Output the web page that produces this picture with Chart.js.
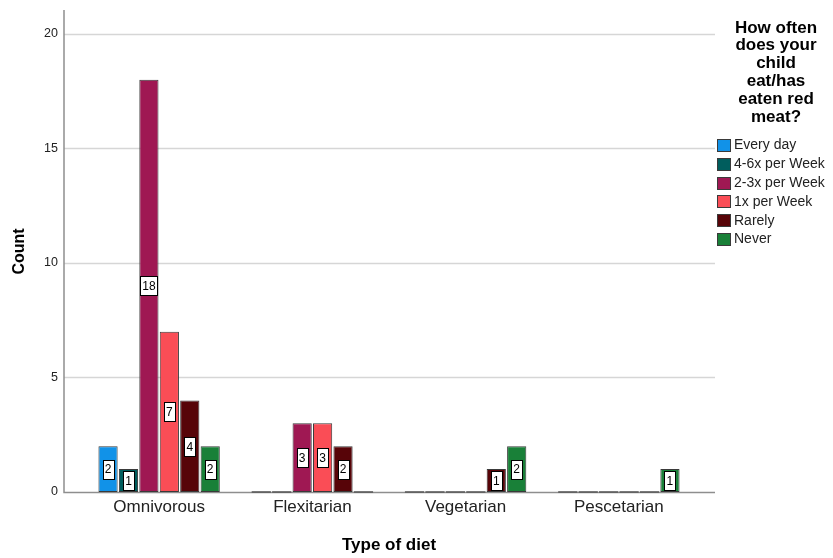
<!DOCTYPE html>
<html>
<head>
<meta charset="utf-8">
<script src="https://cdn.jsdelivr.net/npm/chart.js@4/dist/chart.umd.min.js"></script>
<style>
  html, body { margin: 0; padding: 0; background: #fff; }
  #wrap { width: 833px; height: 558px; }
</style>
</head>
<body>
<div id="wrap"><canvas id="myChart" width="833" height="558"></canvas></div>
<script>
const diets = ['Omnivorous', 'Flexitarian', 'Vegetarian', 'Pescetarian'];
const legendTitle = ['How often', 'does your', 'child', 'eat/has', 'eaten red', 'meat?'];

const everyDay   = [2, 0, 0, 0];
const fourToSix  = [1, 0, 0, 0];
const twoToThree = [18, 3, 0, 0];
const oncePerWk  = [7, 3, 0, 0];
const rarely     = [4, 2, 1, 0];
const never      = [2, 0, 2, 1];

const yTicks = [0, 5, 10, 15, 20];

const FONT = "'Liberation Sans', Arial, sans-serif";

function series(label, data, color) {
    return {
        label: label,
        data: data,
        backgroundColor: color,
        borderColor: '#3a3a3a',
        borderWidth: 1,
        borderSkipped: false,
        categoryPercentage: 0.8,
        barPercentage: 0.94
    };
}

// grid lines + axis lines drawn wider than the plot area, like the SPSS output
const backdrop = {
    id: 'backdrop',
    beforeDatasetsDraw(chart) {
        const ctx = chart.ctx;
        const ys = chart.scales.y;
        const x0 = 64, x1 = 715;
        ctx.save();
        ctx.lineWidth = 1.5;
        ctx.strokeStyle = '#d6d6d6';
        yTicks.forEach(v => {
            if (v === 0) return;
            const y = Math.round(ys.getPixelForValue(v)) + 0.5;
            ctx.beginPath();
            ctx.moveTo(x0, y);
            ctx.lineTo(x1, y);
            ctx.stroke();
        });
        const base = Math.round(ys.getPixelForValue(0)) + 0.5;
        ctx.strokeStyle = '#8e8e8e';
        ctx.beginPath();
        ctx.moveTo(x0, chart.chartArea.top - 1);
        ctx.lineTo(x0, base);
        ctx.lineTo(x1, base);
        ctx.stroke();
        ctx.restore();
    }
};

// value boxes in the middle of each bar, flat outline for empty bars
const barLabels = {
    id: 'barLabels',
    afterDatasetsDraw(chart) {
        const ctx = chart.ctx;
        ctx.save();
        ctx.font = '12px ' + FONT;
        ctx.textAlign = 'center';
        ctx.textBaseline = 'middle';
        chart.data.datasets.forEach((ds, i) => {
            const meta = chart.getDatasetMeta(i);
            meta.data.forEach((el, j) => {
                const v = ds.data[j];
                if (!v) {
                    ctx.strokeStyle = '#555';
                    ctx.lineWidth = 1.5;
                    ctx.beginPath();
                    ctx.moveTo(el.x - el.width / 2, el.base);
                    ctx.lineTo(el.x + el.width / 2, el.base);
                    ctx.stroke();
                    return;
                }
                const txt = String(v);
                const w = Math.round(ctx.measureText(txt).width + 4);
                const h = 19;
                const cx = el.x;
                const cy = (el.y + el.base) / 2;
                const left = Math.round(cx - w / 2) + 0.5;
                const top = Math.round(cy - h / 2) + 0.5;
                ctx.fillStyle = '#fff';
                ctx.fillRect(left, top, w, h);
                ctx.strokeStyle = '#000';
                ctx.lineWidth = 1;
                ctx.strokeRect(left, top, w, h);
                ctx.fillStyle = '#000';
                ctx.fillText(txt, cx, cy + 1);
            });
        });
        ctx.restore();
    }
};

// legend block on the right with wrapped bold title
const sideLegend = {
    id: 'sideLegend',
    afterDraw(chart) {
        const ctx = chart.ctx;
        ctx.save();
        ctx.fillStyle = '#000';
        ctx.font = 'bold 17px ' + FONT;
        ctx.textAlign = 'center';
        ctx.textBaseline = 'middle';
        legendTitle.forEach((line, k) => {
            ctx.fillText(line, 776, 28 + k * 17.8);
        });
        ctx.font = '14px ' + FONT;
        ctx.textAlign = 'left';
        chart.data.datasets.forEach((ds, i) => {
            const cy = 145 + i * 18.8;
            ctx.fillStyle = ds.backgroundColor;
            ctx.fillRect(717, Math.round(cy - 6), 14, 13);
            ctx.strokeStyle = '#3a3a3a';
            ctx.lineWidth = 1;
            ctx.strokeRect(717.5, Math.round(cy - 6) + 0.5, 13, 12);
            ctx.fillStyle = '#222';
            ctx.fillText(ds.label, 734, cy + 0.5);
        });
        ctx.restore();
    }
};

const ctx = document.getElementById('myChart').getContext('2d');

const myChart = new Chart(ctx, {
    type: 'bar',
    data: {
        labels: diets,
        datasets: [
            series('Every day', everyDay, '#1192e8'),
            series('4-6x per Week', fourToSix, '#005d5d'),
            series('2-3x per Week', twoToThree, '#9f1853'),
            series('1x per Week', oncePerWk, '#fa4d56'),
            series('Rarely', rarely, '#570408'),
            series('Never', never, '#198038')
        ]
    },
    options: {
        responsive: false,
        animation: false,
        layout: { padding: { left: 0, top: 11, right: 137.5, bottom: 0 } },
        plugins: {
            legend: { display: false },
            tooltip: { enabled: false }
        },
        scales: {
            x: {
                offset: true,
                grid: { display: false, drawTicks: false },
                border: { display: false },
                ticks: { font: { family: FONT, size: 17 }, color: '#222', padding: 5 },
                title: {
                    display: true,
                    text: 'Type of diet',
                    color: '#000',
                    font: { family: FONT, size: 17, weight: 'bold' },
                    padding: { top: 0, bottom: 2 }
                },
                afterFit: s => { s.height = 66; }
            },
            y: {
                min: 0,
                max: 21,
                grid: { display: false, drawTicks: false },
                border: { display: false },
                ticks: { stepSize: 5, font: { family: FONT, size: 12.5 }, color: '#222', padding: 24.5 },
                afterBuildTicks: s => { s.ticks = yTicks.map(v => ({ value: v })); },
                title: {
                    display: true,
                    text: 'Count',
                    color: '#000',
                    font: { family: FONT, size: 16, weight: 'bold' },
                    padding: { top: 10, bottom: 0 }
                },
                afterFit: s => { s.width = 82.5; s.paddingTop = 0; s.paddingBottom = 0; }
            }
        }
    },
    plugins: [backdrop, barLabels, sideLegend]
});
</script>
</body>
</html>
